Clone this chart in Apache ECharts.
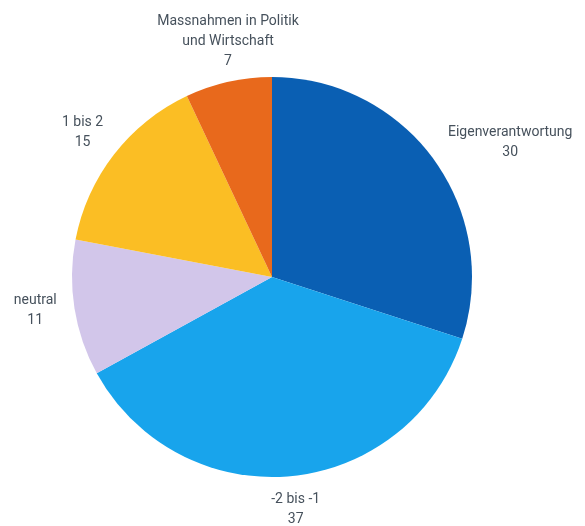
<!DOCTYPE html>
<html>
<head>
<meta charset="utf-8">
<script src="https://cdn.jsdelivr.net/npm/echarts@6/dist/echarts.min.js"></script>
<style>
  html, body { margin: 0; padding: 0; background: #fff; }
  #chart { width: 585px; height: 526px; }
</style>
</head>
<body>
<div id="chart"></div>
<script>
// Daten
const categories = ['Eigenverantwortung', '-2 bis -1', 'neutral', '1 bis 2', 'Massnahmen in Politik\nund Wirtschaft']
const values = [30, 37, 11, 15, 7]
const colors = ['#0a5fb3', '#18a4ec', '#d2c6ea', '#fbbe24', '#e8691c']

const chart = echarts.init(document.getElementById('chart'))

// kleine Verschiebungen der Beschriftungen
const labelShift = [
  { dx: -7, dy: -5 },
  { align: 'center', dx: -2, dy: 13 },
  { dx: 7, dy: -1 },
  { dx: 10, dy: -10 },
  { align: 'center', dx: 9, dy: -21 }
]

const option = {
  animation: false,
  color: colors,
  series: [
    {
      type: 'pie',
      center: [272, 277],
      radius: 200,
      startAngle: 90,
      clockwise: true,
      data: categories.map((name, i) => ({ name, value: values[i] })),
      label: {
        show: true,
        position: 'outside',
        overflow: 'none',
        bleedMargin: 0,
        formatter: '{n|{b}}\n{n|{c}}',
        rich: {
          n: {
            fontFamily: '"Liberation Sans Narrow", Roboto, sans-serif',
            fontSize: 14,
            lineHeight: 20,
            color: '#46515c',
            align: 'center'
          }
        }
      },
      labelLine: { show: false, length: 20, length2: 0 },
      labelLayout: function (params) {
        return labelShift[params.dataIndex]
      }
    }
  ]
}

chart.setOption(option)
</script>
</body>
</html>
